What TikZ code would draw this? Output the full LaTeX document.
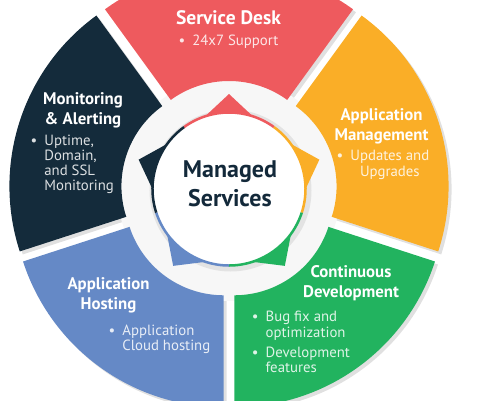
\documentclass[tikz,border=0pt]{standalone}
\usepackage{fontspec}
\setmainfont{PT Sans}
\usepackage{tikz}
\usepackage{xcolor}

\definecolor{deskred}{HTML}{EE5A5E}
\definecolor{mgmtorange}{HTML}{FAAE27}
\definecolor{devgreen}{HTML}{22B35F}
\definecolor{hostblue}{HTML}{6589C6}
\definecolor{monnavy}{HTML}{142B3B}
\definecolor{hubtext}{HTML}{13293A}

\newcommand{\segtitlefont}{\bfseries\fontsize{16.8}{20}\selectfont}
\newcommand{\segbodyfont}{\fontsize{14.8}{15.3}\selectfont}
\newcommand{\hubfont}{\bfseries\fontsize{24}{28.7}\selectfont}

\begin{document}
\begin{tikzpicture}[x=1pt,y=1pt,
    segtitle/.style={text=white, font=\segtitlefont, inner sep=0pt},
    segbody/.style={text=white, text opacity=.85, font=\segbodyfont, inner sep=0pt},
    hub/.style={text=hubtext, font=\hubfont, inner sep=0pt}]
        \useasboundingbox (-229,-211) rectangle (266,189);
        % shadows of the five parts first
        \foreach \a/\b in {54/126, -18/54, -90/-18, -162/-90, 126/198} {
            \pgfmathsetmacro{\segmid}{(\a+\b)/2}
            \fill[black, opacity=.12, shift={(\segmid:9)}, xshift=3, yshift=-3]
                (\a:99) -- (\a:211) arc[start angle=\a, end angle=\b, radius=211]
                -- (\b:99) arc[start angle=\b, end angle=\a, radius=99] -- cycle;
        }
        \fill[gray!6] (0,0) circle (112);
        \foreach \clr/\a/\b in {deskred/54/126, mgmtorange/-18/54, devgreen/-90/-18, hostblue/-162/-90, monnavy/126/198} {
            \pgfmathsetmacro{\segmid}{(\a+\b)/2}
            \fill[\clr, shift={(\segmid:9)}]
                (\a:99) -- (\a:211) arc[start angle=\a, end angle=\b, radius=211]
                -- (\b:99) arc[start angle=\b, end angle=\a, radius=99] -- cycle;
        }
        % hub with pointers and coloured rim
        \fill[black, opacity=.08] (1.5,-1.5) circle (81);
        \foreach \clr/\a/\b in {deskred/54/126, mgmtorange/-18/54, devgreen/-90/-18, hostblue/-162/-90, monnavy/126/198} {
            \pgfmathsetmacro{\segmid}{(\a+\b)/2}
            \fill[\clr] (\segmid-19:76) -- (\segmid:95) -- (\segmid+19:76) -- cycle;
        }
        \fill[white] (0,0) circle (76);
        \foreach \clr/\a/\b in {deskred/54/126, mgmtorange/-18/54, devgreen/-90/-18, hostblue/-162/-90, monnavy/126/198} {
            \draw[\clr, line width=2.5] (\a:76.5) arc[start angle=\a, end angle=\b, radius=76.5];
        }
        \node[hub, anchor=base] (hub) at (1,11.7) {\begin{tabular}[t]{@{}c@{}}Managed\\Services\end{tabular}};

        \node[segtitle, anchor=base, font=\bfseries\fontsize{19.5}{20}\selectfont] (desk) at (-0.5,165) {Service Desk};
        \node[segbody, anchor=base] (deskitems) at (-0.5,144) {\textbullet\hspace{7pt}24x7 Support};

        \node[segtitle, anchor=base] (mgmt) at (152.5,69) {\begin{tabular}[t]{@{}c@{}}Application\\Management\end{tabular}};
        \node[segbody, anchor=base west] (mgmtitems) at (107.5,28.3) {\begin{tabular}[t]{@{}c@{\hspace{7pt}}c@{}}\textbullet & Updates and\\ & Upgrades\end{tabular}};

        \node[segtitle, anchor=base] (dev) at (122,-88.7) {\begin{tabular}[t]{@{}c@{}}Continuous\\Development\end{tabular}};
        \node[segbody, anchor=base west] (devitems) at (22.8,-132.7) {\begin{tabular}[t]{@{}l@{\hspace{7pt}}l@{}}\textbullet & Bug fix and\\ & optimization\\[4.7pt] \textbullet & Development\\ & features\end{tabular}};

        \node[segtitle, anchor=base] (host) at (-120.5,-100.3) {\begin{tabular}[t]{@{}c@{}}Application\\Hosting\end{tabular}};
        \node[segbody, anchor=base west] (hostitems) at (-120.5,-146) {\begin{tabular}[t]{@{}l@{\hspace{7pt}}l@{}}\textbullet & Application\\ & Cloud hosting\end{tabular}};

        \node[segtitle, anchor=base] (mon) at (-146,84.7) {\begin{tabular}[t]{@{}c@{}}Monitoring\\ \& Alerting\end{tabular}};
        \node[segbody, anchor=base west] (monitems) at (-198.5,44) {\begin{tabular}[t]{@{}l@{\hspace{7pt}}l@{}}\textbullet & Uptime,\\ & Domain,\\ & and SSL\\ & Monitoring\end{tabular}};
    \end{tikzpicture}
\end{document}
